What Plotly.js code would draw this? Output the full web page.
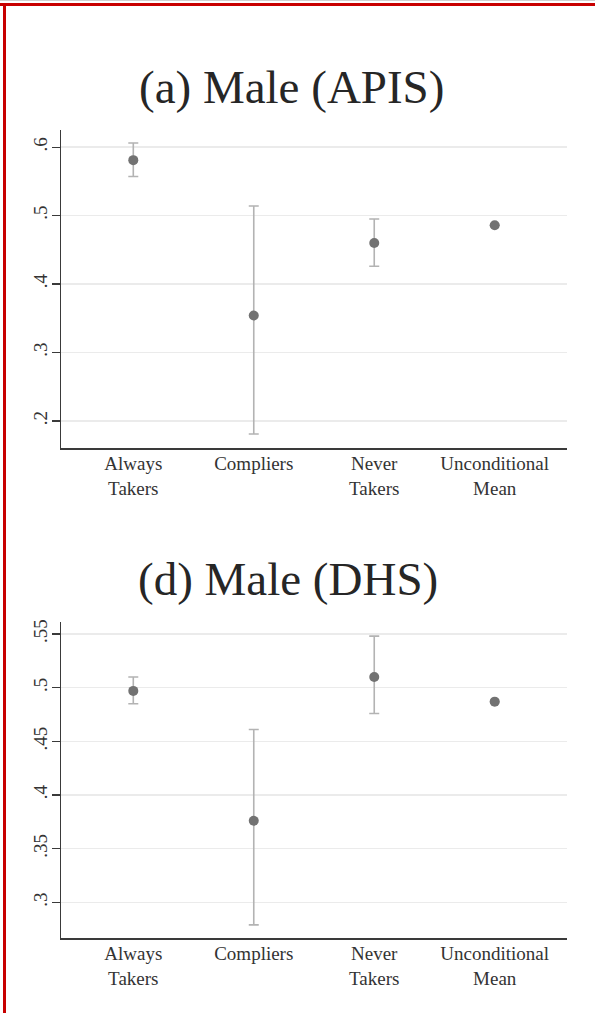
<!DOCTYPE html>
<html>
<head>
<meta charset="utf-8">
<script src="https://cdn.plot.ly/plotly-3.0.1.min.js"></script>
<style>
html,body{margin:0;padding:0;background:#fff;}
#chart{width:595px;height:1013px;}
</style>
</head>
<body>
<div id="chart"></div>
<script>
// ---- data ----
var categories = ["Always<br>Takers", "Compliers", "Never<br>Takers", "Unconditional<br>Mean"];

var apisMean = [0.581, 0.354, 0.460, 0.486];
var apisLow  = [0.557, 0.181, 0.426, null];
var apisHigh = [0.606, 0.514, 0.495, null];

var dhsMean = [0.497, 0.376, 0.510, 0.487];
var dhsLow  = [0.485, 0.279, 0.476, null];
var dhsHigh = [0.510, 0.461, 0.548, null];

var apisTicks = [0.2, 0.3, 0.4, 0.5, 0.6];
var apisTickText = [".2", ".3", ".4", ".5", ".6"];
var dhsTicks = [0.3, 0.35, 0.4, 0.45, 0.5, 0.55];
var dhsTickText = [".3", ".35", ".4", ".45", ".5", ".55"];

var titles = ["(a) Male (APIS)", "(d) Male (DHS)"];

// ---- helpers ----
function plus(mean, high) { return mean.map(function (m, i) { return high[i] == null ? null : high[i] - m; }); }
function minus(mean, low) { return mean.map(function (m, i) { return low[i] == null ? null : m - low[i]; }); }

var markerColor = "#727272";
var errColor = "#b3b3b3";

function trace(mean, low, high, xa, ya) {
  return {
    type: "scatter", mode: "markers",
    x: categories, y: mean, xaxis: xa, yaxis: ya,
    marker: { color: markerColor, size: 10 },
    error_y: { type: "data", symmetric: false, array: plus(mean, high), arrayminus: minus(mean, low),
               color: errColor, thickness: 1.6, width: 5 },
    hoverinfo: "skip", showlegend: false
  };
}

var data = [
  trace(apisMean, apisLow, apisHigh, "x", "y"),
  trace(dhsMean, dhsLow, dhsHigh, "x2", "y2")
];

var W = 595, H = 1013;
function px(x) { return x / W; }
function py(y) { return 1 - y / H; }

var font = "Liberation Serif, Times New Roman, serif";

function xaxis(dom, anchor) {
  return {
    domain: dom, anchor: anchor, type: "category", range: [-0.6, 3.6],
    showline: true, linecolor: "#3a3a3a", linewidth: 1.5,
    ticks: "", showgrid: false, zeroline: false, fixedrange: true,
    ticklabelstandoff: -2,
    tickfont: { family: font, size: 19, color: "#333" }
  };
}
function yaxis(dom, anchor, range, tv, tt) {
  return {
    domain: dom, anchor: anchor, range: range,
    tickmode: "array", tickvals: tv, ticktext: tt, tickangle: -90,
    showline: true, linecolor: "#3a3a3a", linewidth: 1.5,
    ticks: "outside", ticklen: 8, tickwidth: 1.2, tickcolor: "#3a3a3a",
    ticklabelstandoff: -3,
    showgrid: true, gridcolor: "#ebebeb", gridwidth: 1.5, zeroline: false, fixedrange: true,
    tickfont: { family: font, size: 19, color: "#333" }
  };
}

var xdom = [px(61), px(567)];

var layout = {
  width: W, height: H,
  margin: { l: 0, r: 0, t: 0, b: 0 },
  paper_bgcolor: "#fff", plot_bgcolor: "#fff",
  showlegend: false,
  xaxis: xaxis(xdom, "y"),
  yaxis: yaxis([py(448), py(130)], "x", [0.1606, 0.625], apisTicks, apisTickText),
  xaxis2: xaxis(xdom, "y2"),
  yaxis2: yaxis([py(938), py(622)], "x2", [0.2668, 0.5612], dhsTicks, dhsTickText),
  annotations: [
    { text: titles[0], xref: "paper", yref: "paper", x: px(291), y: py(87), xanchor: "center", yanchor: "middle",
      showarrow: false, font: { family: font, size: 47, color: "#262626" } },
    { text: titles[1], xref: "paper", yref: "paper", x: px(288), y: py(579), xanchor: "center", yanchor: "middle",
      showarrow: false, font: { family: font, size: 47, color: "#262626" } }
  ],
  shapes: [
    { type: "line", xref: "paper", yref: "paper", x0: 0, x1: 1, y0: py(0.5), y1: py(0.5), line: { color: "#d0d0d0", width: 1 } },
    { type: "line", xref: "paper", yref: "paper", x0: 0, x1: 1, y0: py(4.5), y1: py(4.5), line: { color: "#c80000", width: 3 } },
    { type: "line", xref: "paper", yref: "paper", x0: px(4.5), x1: px(4.5), y0: py(3), y1: 0, line: { color: "#c80000", width: 3 } }
  ]
};

Plotly.newPlot("chart", data, layout, { displayModeBar: false, staticPlot: true });
</script>
</body>
</html>
